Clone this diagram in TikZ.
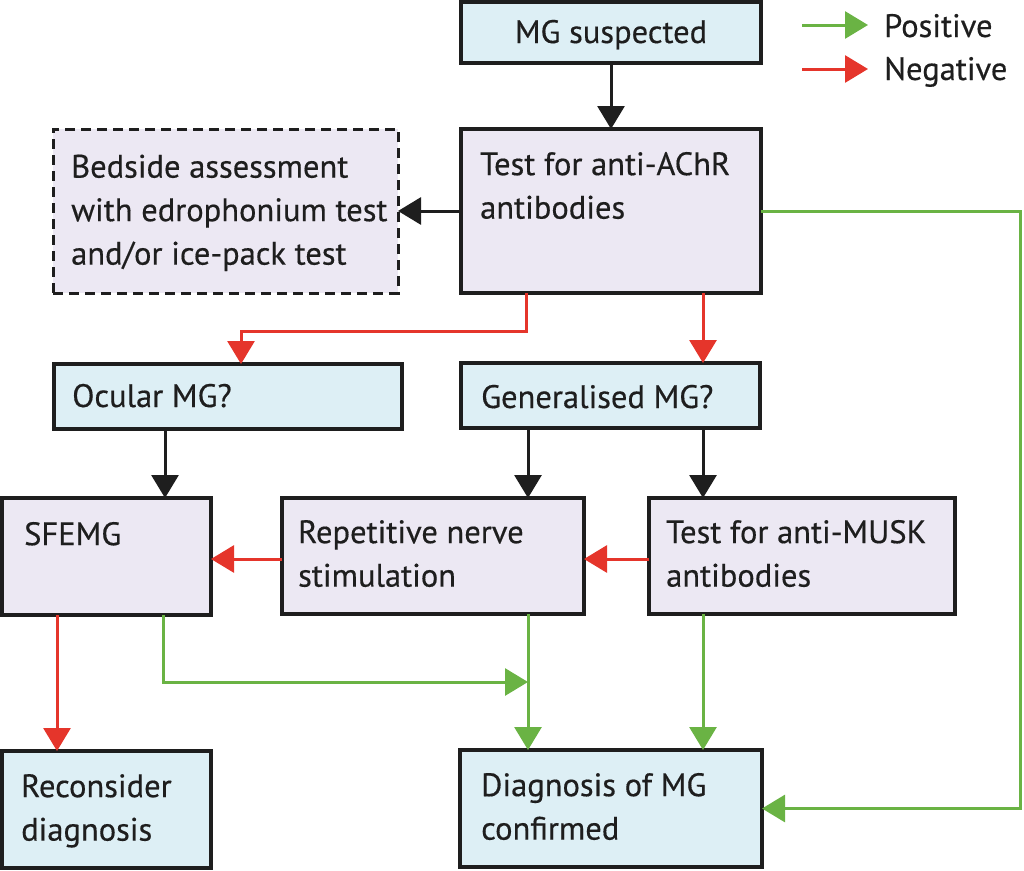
\documentclass[tikz,border=0pt]{standalone}
\usepackage{fontspec}
\setmainfont[FakeBold=0.4]{PT Sans}
\usetikzlibrary{arrows.meta}
\definecolor{boxblue}{RGB}{221,239,245}
\definecolor{boxlav}{RGB}{236,232,243}
\definecolor{posgreen}{RGB}{106,179,68}
\definecolor{negred}{RGB}{229,53,43}
\definecolor{ink}{RGB}{30,30,30}
\newcommand{\boxfont}{\fontsize{32.5}{43.5}\selectfont}
\begin{document}
\begin{tikzpicture}[x=1pt,y=-1pt,
 frame/.style={draw=ink, line width=3.4pt, inner sep=0pt, outer sep=0pt, anchor=north west},
 bluebox/.style={frame, fill=boxblue},
 lavbox/.style={frame, fill=boxlav},
 dashbox/.style={lavbox, line width=3pt, dash pattern=on 10pt off 6pt},
 txt/.style={anchor=north west, inner sep=0pt, align=left, font=\boxfont, text=ink},
 ltxt/.style={anchor=base west, inner sep=0pt, font=\boxfont, text=ink},
 conn/.style={line width=3pt, -{Triangle[length=23pt,width=27pt]}},
 blkarr/.style={conn, color=ink},
 posarr/.style={conn, color=posgreen},
 negarr/.style={conn, color=negred},
]
\useasboundingbox (0,0) rectangle (1024,870);
% boxes
\node[bluebox, minimum width=300pt, minimum height=61pt] (mg) at (461,2) {};
\node[lavbox, minimum width=300pt, minimum height=164pt] (achr) at (461,129) {};
\node[dashbox, minimum width=345pt, minimum height=164pt] (bed) at (53,129) {};
\node[bluebox, minimum width=348pt, minimum height=65pt] (ocu) at (54,364) {};
\node[bluebox, minimum width=299pt, minimum height=65pt] (gen) at (461,363) {};
\node[lavbox, minimum width=209pt, minimum height=117pt] (sfe) at (2,498) {};
\node[lavbox, minimum width=302pt, minimum height=116pt] (rns) at (282,498) {};
\node[lavbox, minimum width=306pt, minimum height=116pt] (mus) at (649,498) {};
\node[bluebox, minimum width=209pt, minimum height=117pt] (rec) at (2,751) {};
\node[bluebox, minimum width=302pt, minimum height=117pt] (dia) at (460,750) {};
% texts
\node[anchor=base, inner sep=0pt, font=\boxfont, text=ink] (tmg) at (611,43) {MG suspected};
\node[txt] (tachr) at ([shift={(19pt,-15.5pt)}]achr.north west) {\strut Test for anti-AChR\\antibodies};
\node[txt] (tbed) at ([shift={(18pt,-18pt)}]bed.north west) {\strut Bedside assessment\\with edrophonium test\\and/or ice-pack test};
\node[ltxt] (tocu) at (72,407) {Ocular MG?};
\node[ltxt] (tgen) at (481,408) {Generalised MG?};
\node[txt] (tsfe) at ([shift={(22pt,-16.5pt)}]sfe.north west) {\strut SFEMG};
\node[txt] (trns) at ([shift={(16pt,-14.5pt)}]rns.north west) {\strut Repetitive nerve\\stimulation};
\node[txt] (tmus) at ([shift={(17pt,-14.5pt)}]mus.north west) {\strut Test for anti-MUSK\\antibodies};
\node[txt] (trec) at ([shift={(19pt,-15.5pt)}]rec.north west) {\strut Reconsider\\diagnosis};
\node[txt] (tdia) at ([shift={(21pt,-15.5pt)}]dia.north west) {\strut Diagnosis of MG\\confirmed};
% legend
\node[ltxt] (lpos) at (884,37) {Positive};
\node[ltxt] (lneg) at (884,80) {Negative};
\coordinate (lp) at (802,25);
\coordinate (ln) at (802,69);
\draw[posarr] (lp) -- ++(66,0);
\draw[negarr] (ln) -- ++(66,0);
% connectors
\draw[blkarr] (mg.south) -- (achr.north);
\draw[blkarr] (achr.west) -- (bed.east);
\draw[posarr] (achr.east) -- ++(259,0) |- (dia.east);
\draw[negarr] ([xshift=65pt]achr.south west) -- ++(0,38) -| ([xshift=187pt]ocu.north west);
\draw[negarr] ([xshift=-58pt]achr.south east) -- ([xshift=-57pt]gen.north east);
\draw[blkarr] ([xshift=67pt]gen.south west) -- ([xshift=67pt]gen.south west |- rns.north);
\draw[blkarr] ([xshift=-57pt]gen.south east) -- ([xshift=-57pt]gen.south east |- mus.north);
\draw[blkarr] ([xshift=111pt]ocu.south west) -- ([xshift=111pt]ocu.south west |- sfe.north);
\draw[negarr] ([yshift=-61pt]mus.north west) -- ([yshift=-61pt]mus.north west -| rns.east);
\draw[negarr] ([yshift=-61pt]rns.north west) -- ([yshift=-61pt]rns.north west -| sfe.east);
\draw[negarr] ([xshift=55pt]sfe.south west) -- ([xshift=55pt]sfe.south west |- rec.north);
\coordinate (join) at ([shift={(246pt,-68pt)}]rns.south west);
\draw[posarr] ([xshift=161pt]sfe.south west) |- (join);
\draw[posarr] ([xshift=246pt]rns.south west) -- ([xshift=246pt]rns.south west |- dia.north);
\draw[posarr] ([xshift=54pt]mus.south west) -- ([xshift=54pt]mus.south west |- dia.north);
\end{tikzpicture}
\end{document}
